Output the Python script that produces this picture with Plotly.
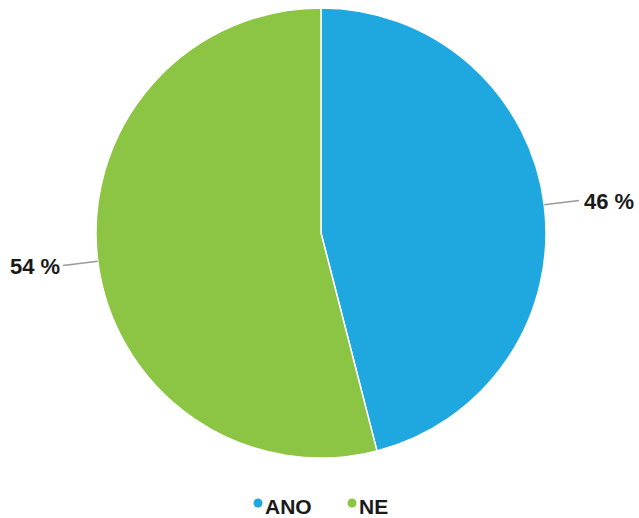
import math
import plotly.graph_objects as go

# Survey answers
categories = ["ANO", "NE"]
values = [46, 54]
colors = ["#1FA8E0", "#8CC443"]

W, H = 639, 518
CX, CY, R = 321, 233, 225          # pie centre and radius in pixels
LEADER = 35                        # leader line length in pixels
FONT = "Liberation Sans, Arial, sans-serif"


def px(x):
    return x / W


def py(y):
    return 1 - y / H


fig = go.Figure(
    go.Pie(
        labels=categories,
        values=values,
        sort=False,
        direction="clockwise",
        rotation=0,
        marker=dict(colors=colors, line=dict(color="white", width=1.5)),
        textinfo="none",
        hoverinfo="label+percent",
        showlegend=False,
        domain=dict(x=[px(CX - R), px(CX + R)], y=[py(CY + R), py(CY - R)]),
    )
)

# Outside percentage labels with leader lines at each slice's mid-angle
total = sum(values)
shapes, annotations = [], []
start = 0.0
for name, v in zip(categories, values):
    mid = (start + v / 2) / total * 2 * math.pi
    start += v
    dx, dy = math.sin(mid), -math.cos(mid)
    x0, y0 = CX + R * dx, CY + R * dy
    x1, y1 = x0 + LEADER * dx, y0 + LEADER * dy
    shapes.append(dict(type="line", xref="paper", yref="paper",
                       x0=px(x0), y0=py(y0), x1=px(x1), y1=py(y1),
                       line=dict(color="#9a9a9a", width=1.5)))
    right = dx > 0
    annotations.append(dict(
        x=px(x1 + (3 if right else -1)), y=py(y1 + 1), xref="paper", yref="paper",
        text=f"<b>{round(v / total * 100)} %</b>", showarrow=False,
        xanchor="left" if right else "right", yanchor="middle",
        font=dict(family=FONT, size=22, color="#1a1a1a"),
    ))

# Legend row at the bottom
legend_x = [258, 352]
for name, c, lx in zip(categories, colors, legend_x):
    shapes.append(dict(type="circle", xref="paper", yref="paper",
                       x0=px(lx - 4.5), x1=px(lx + 4.5),
                       y0=py(503 + 4.5), y1=py(503 - 4.5),
                       fillcolor=c, line=dict(width=0)))
    annotations.append(dict(
        x=px(lx + 5), y=py(506), xref="paper", yref="paper",
        text=f"<b>{name}</b>", showarrow=False,
        xanchor="left", yanchor="middle",
        font=dict(family=FONT, size=21, color="#1a1a1a"),
    ))

fig.update_layout(
    width=W, height=H,
    margin=dict(l=0, r=0, t=0, b=0),
    paper_bgcolor="white",
    plot_bgcolor="white",
    shapes=shapes,
    annotations=annotations,
)

fig.write_html("out.html")
